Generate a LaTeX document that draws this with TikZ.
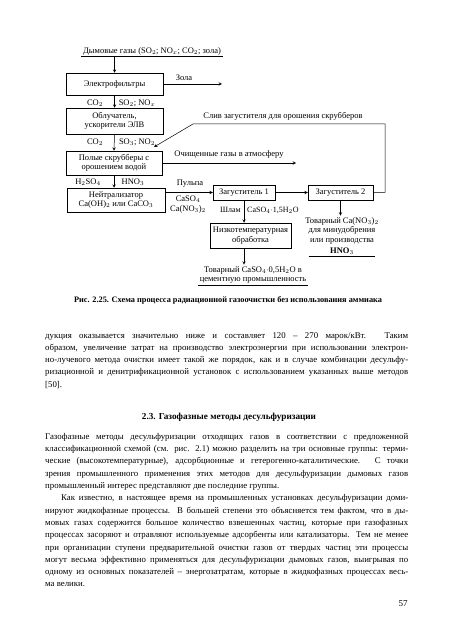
\documentclass[tikz,border=0pt]{standalone}
\usepackage{fontspec}
\setmainfont{Liberation Serif}
\usepackage{tikz}
\usetikzlibrary{arrows,positioning,calc}
\tikzset{
  unit/.style={draw, line width=0.5pt, inner sep=1pt, align=center,
               font=\fontsize{8.5}{9.5}\selectfont},
  lbl/.style={inner sep=0pt, align=center, font=\fontsize{8.5}{9.5}\selectfont},
  flow/.style={->, >=stealth, line width=0.5pt},
  body/.style={anchor=north west, inner sep=0pt, text width=363pt, align=justify,
               font=\fontsize{8.8}{12.3}\selectfont}
}

\begin{document}
\begin{tikzpicture}[x=1pt,y=-1pt]
  \useasboundingbox (0,0) rectangle (450,636);

  \node[lbl, inner sep=1.5pt] (flue) at (152,51) {Дымовые газы (SO$_2$; NO$_x$; CO$_2$; зола)};
  \draw (flue.south west) -- (flue.south east);

  \node[unit, minimum width=97pt, minimum height=22pt] (filt) at (114.5,84) {Электрофильтры};
  \node[unit, minimum width=97pt, minimum height=26pt] (irr) at (114.5,121) {Облучатель,\\ускорители ЭЛВ};
  \node[unit, minimum width=96pt, minimum height=24pt] (scrub) at (114,163) {Полые скрубберы с\\орошением водой};
  \node[unit, minimum width=98pt, minimum height=24pt] (neut) at (116,200) {Нейтрализатор\\Ca(OH)$_2$ или CaCO$_3$};
  \node[unit, minimum width=62pt, minimum height=15pt] (thk1) at (244,192.5) {Загуститель 1};
  \node[unit, minimum width=65pt, minimum height=15pt] (thk2) at (340.5,192.5) {Загуститель 2};
  \node[unit, minimum width=81pt, minimum height=25pt] (lowt) at (250.5,235.5) {Низкотемпературная\\обработка};

  \draw[flow] (flue.south -| filt.north) -- (filt.north);
  \draw[flow] (filt.south) -- (irr.north);
  \draw[flow] (irr.south) -- (scrub.north);
  \draw[flow] (scrub.south) -- (scrub.south |- neut.north);

  \node[lbl] (co2a) at (95,103) {CO$_2$};
  \node[lbl] (sox1) at (137,103) {SO$_2$; NO$_x$};
  \node[lbl] (co2b) at (95,142) {CO$_2$};
  \node[lbl] (sox2) at (137,142) {SO$_3$; NO$_2$};
  \node[lbl] (acid1) at (88,182) {H$_2$SO$_4$};
  \node[lbl] (acid2) at (133,182) {HNO$_3$};

  \node[lbl] (ashlbl) at (184,78) {Зола};
  \coordinate (ash) at (222,84);
  \draw[flow] (filt.east) -- (ash);

  \node[lbl] (drain) at (283,116) {Слив загустителя для орошения скрубберов};
  \coordinate (retR) at (385,124);
  \coordinate (retL) at (193,124);
  \coordinate (retE) at (154,147);
  \draw[flow] (thk2.east) -- (thk2.east -| retR) -- (retR) -- (retL) -- (retE);

  \node[lbl] (clean) at (229,154) {Очищенные газы в атмосферу};
  \coordinate (atm) at (296,163);
  \draw[flow] (scrub.east) -- (atm);

  \node[lbl] (pulp) at (190,184) {Пульпа};
  \node[lbl] (pulpc) at (188,204.5) {CaSO$_4$\\Ca(NO$_3$)$_2$};
  \draw[flow] (thk1.west -| neut.east) -- (thk1.west);
  \draw[flow] (thk1.east) -- (thk2.west);

  \node[lbl, anchor=east, font=\fontsize{8}{9}\selectfont] (slud) at (241,210) {Шлам};
  \node[lbl, anchor=west, font=\fontsize{8}{9}\selectfont] (gyps) at (247,210) {CaSO$_4\cdot$1,5H$_2$O};
  \draw[flow] (thk1.south) -- (thk1.south |- lowt.north);

  \node[lbl, inner sep=1.5pt] (prod2) at (342,236) {Товарный Ca(NO$_3$)$_2$\\для минудобрения\\или производства\\[2pt]\textbf{HNO$_3$}};
  \draw ([xshift=5pt]prod2.south west) -- ([xshift=-5pt]prod2.south east);
  \draw[flow] (thk2.south) -- (thk2.south |- prod2.north);

  \node[lbl, inner sep=1.5pt] (prod1) at (253,275) {Товарный CaSO$_4\cdot$0,5H$_2$O в\\цементную промышленность};
  \draw (prod1.south west) -- (prod1.south east);
  \draw[flow] (lowt.south -| thk1.south) -- (prod1.north -| thk1.south);

  \node[font=\bfseries\fontsize{8.3}{10}\selectfont] (capt) at (228,300) {Рис. 2.25. Схема процесса радиационной газоочистки без использования аммиака};

  \node[body] (par1) at (45,332) {дукция оказывается значительно ниже и составляет 120 -- 270 марок/кВт. Таким\linebreak
    образом, увеличение затрат на производство электроэнергии при использовании электрон-\linebreak
    но-лучевого метода очистки имеет такой же порядок, как и в случае комбинации десульфу-\linebreak
    ризационной и денитрификационной установок с использованием указанных выше методов\linebreak{}
    [50].};

  \node[font=\bfseries\fontsize{9.2}{11}\selectfont] (head) at (229,417) {2.3. Газофазные методы десульфуризации};

  \node[body] (par2) at (45,433) {Газофазные методы десульфуризации отходящих газов в соответствии с предложенной\linebreak
    классификационной схемой (см. рис. 2.1) можно разделить на три основные группы: терми-\linebreak
    ческие (высокотемпературные), адсорбционные и гетерогенно-каталитические. С точки\linebreak
    зрения промышленного применения этих методов для десульфуризации дымовых газов\linebreak
    промышленный интерес представляют две последние группы.\par
    \hspace*{16pt}Как известно, в настоящее время на промышленных установках десульфуризации доми-\linebreak
    нируют жидкофазные процессы. В большей степени это объясняется тем фактом, что в ды-\linebreak
    мовых газах содержится большое количество взвешенных частиц, которые при газофазных\linebreak
    процессах засоряют и отравляют используемые адсорбенты или катализаторы. Тем не менее\linebreak
    при организации ступени предварительной очистки газов от твердых частиц эти процессы\linebreak
    могут весьма эффективно применяться для десульфуризации дымовых газов, выигрывая по\linebreak
    одному из основных показателей -- энергозатратам, которые в жидкофазных процессах весь-\linebreak
    ма велики.};

  \node[font=\fontsize{9}{10}\selectfont] (pgno) at (403,604) {57};
\end{tikzpicture}
\end{document}
